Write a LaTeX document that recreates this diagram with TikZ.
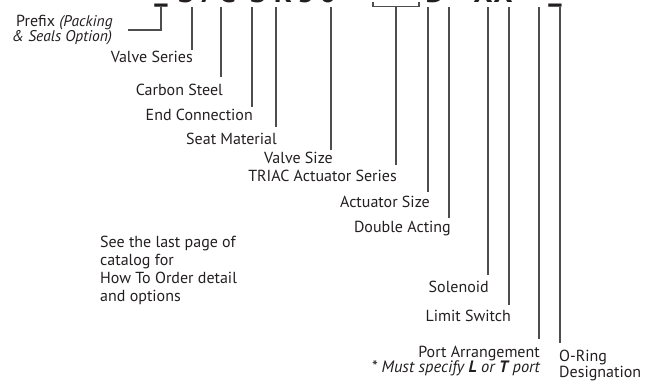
\documentclass[tikz,border=0pt]{standalone}
\usepackage{fontspec}
\setmainfont{PT Sans}
\definecolor{ink}{HTML}{231F20}
\definecolor{leadgray}{HTML}{4D4D4D}

\begin{document}
\begin{tikzpicture}[x=1pt,y=-1pt,
    leader/.style={leadgray,line width=1.1pt},
    lbl/.style={inner sep=0pt,text=ink,font=\fontsize{16}{18}\selectfont},
    note/.style={inner sep=0pt,text=ink,font=\fontsize{15.5}{18}\selectfont\itshape},
    codechar/.style={inner sep=0pt,anchor=base,text=ink,font=\fontsize{30}{30}\selectfont\bfseries}]
        \useasboundingbox (0,0) rectangle (662,383);

        % Coordinates
        \coordinate (A) at (161,7);
        \coordinate (B) at (161,30);
        \coordinate (C) at (128,30);
        \coordinate (D) at (192,7);
        \coordinate (E) at (192,50);
        \coordinate (F) at (221,7);
        \coordinate (G) at (221,77);
        \coordinate (H) at (252,7);
        \coordinate (I) at (252,107);
        \coordinate (J) at (276,7);
        \coordinate (K) at (276,127);
        \coordinate (L) at (331,7);
        \coordinate (M) at (331,150);
        \coordinate (N) at (373,2);
        \coordinate (O) at (373,6.5);
        \coordinate (P) at (419,6.5);
        \coordinate (Q) at (419,2);
        \coordinate (R) at (396,6.5);
        \coordinate (S) at (396,165);
        \coordinate (T) at (428,7);
        \coordinate (U) at (428,192);
        \coordinate (V) at (449,7);
        \coordinate (W) at (449,218);
        \coordinate (X) at (488,7);
        \coordinate (Y) at (488,275);
        \coordinate (Z) at (509,7);
        \coordinate (AA) at (509,305);
        \coordinate (AB) at (539,7);
        \coordinate (AC) at (539,339);
        \coordinate (AD) at (560,7);
        \coordinate (AE) at (560,343);

        % Code (cut off at the top)
        \foreach \px/\ch [count=\i] in {186/S,207/7,227/C,258/S,283/R,306/3,328/0,356//,435/D,458/-,483/X,503/X}
            \node[codechar] (code\i) at (\px,2) {\ch};
        \node[codechar] (pre) at (161,0) {\_};
        \node[codechar] (ring) at (555,0) {\_};

        % Drawing
        \draw[leader] (A) -- (B) -- (C);
        \draw[leader] (D) -- (E);
        \draw[leader] (F) -- (G);
        \draw[leader] (H) -- (I);
        \draw[leader] (J) -- (K);
        \draw[leader] (L) -- (M);
        \draw[leader] (N) -- (O) -- (P) -- (Q);
        \draw[leader] (R) -- (S);
        \draw[leader] (T) -- (U);
        \draw[leader] (V) -- (W);
        \draw[leader] (X) -- (Y);
        \draw[leader] (Z) -- (AA);
        \draw[leader] (AB) -- (AC);
        \draw[leader] (AD) -- (AE);

        \node[lbl,anchor=base west] (prefix) at (16,26) {Prefix {\fontsize{15.5}{18}\selectfont\itshape (Packing}};
        \node[note,anchor=base west] (seals) at (12,41) {\& Seals Option)};
        \node[lbl,anchor=base east] (valveseries) at (193,62) {Valve Series};
        \node[lbl,anchor=base east] (carbon) at (223,95) {Carbon Steel};
        \node[lbl,anchor=base east] (endconn) at (253,120) {End Connection};
        \node[lbl,anchor=base east] (seat) at (277,144) {Seat Material};
        \node[lbl,anchor=base east] (valvesize) at (333,163) {Valve Size};
        \node[lbl,anchor=base east] (triac) at (397,181) {TRIAC Actuator Series};
        \node[lbl,anchor=base east] (actsize) at (430,207) {Actuator Size};
        \node[lbl,anchor=base east] (double) at (451,232) {Double Acting};
        \node[lbl,anchor=base east] (solenoid) at (489,292) {Solenoid};
        \node[lbl,anchor=base east] (limit) at (511,321) {Limit Switch};
        \node[lbl,anchor=base east] (port) at (540,357) {Port Arrangement};
        \node[note,anchor=base east,font=\fontsize{16.5}{18}\selectfont\itshape] (must) at (540,372) {* Must specify \textbf{L} or \textbf{T} port};
        \node[lbl,anchor=base west] (oring) at (559,361) {O-Ring};
        \node[lbl,anchor=base west] (design) at (559,377) {Designation};

        \node[lbl,anchor=base west] (see1) at (100,247) {See the last page of};
        \node[lbl,anchor=base west] (see2) at (100,265) {catalog for};
        \node[lbl,anchor=base west] (see3) at (100,283) {How To Order detail};
        \node[lbl,anchor=base west] (see4) at (100,301) {and options};
\end{tikzpicture}
\end{document}
